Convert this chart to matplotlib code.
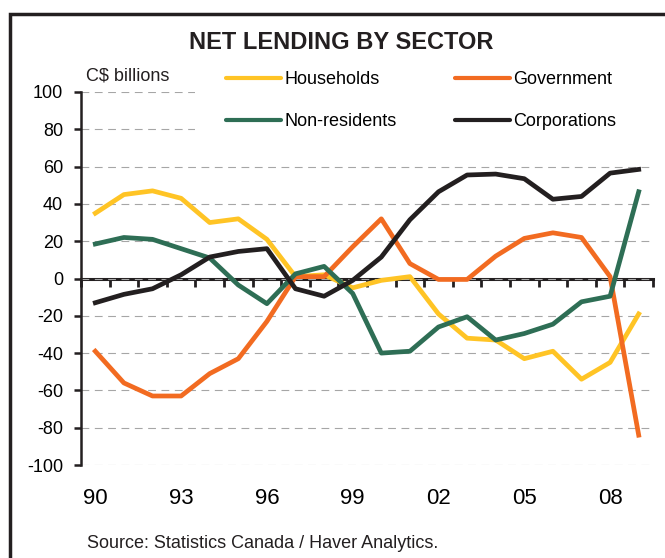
import numpy as np
import matplotlib
matplotlib.use('Agg')
import matplotlib.pyplot as plt
from matplotlib.patches import Rectangle
from matplotlib.lines import Line2D

plt.rcParams['font.family'] = ['Liberation Sans', 'DejaVu Sans']
plt.rcParams['axes.unicode_minus'] = False

years = list(range(1990, 2010))
year_labels = ['90', '93', '96', '99', '02', '05', '08']

households = [35, 45, 47, 43, 30, 32, 21, 1, 2, -5, -1, 1, -19, -32, -33, -43, -39, -54, -45, -19]
government = [-39, -56, -63, -63, -51, -43, -23, 1, 1, 17, 32, 8, -0.5, -0.5, 12, 21.5, 24.5, 22, 1, -84]
non_residents = [18.5, 22, 21, 16, 11, -3.5, -13.5, 2.5, 6.5, -8, -40, -39, -26, -20.5, -33, -29.5, -24.5, -12.5, -9.5, 46.5]
corporations = [-13, -8.5, -5.5, 2, 11.5, 14.5, 16, -5.5, -9.5, -1, 11.5, 31.5, 46.5, 55.5, 56, 53.5, 42.5, 44, 56.5, 58.5]

c_house = '#FFC425'
c_gov = '#F26B21'
c_nonres = '#2E6E55'
c_corp = '#231F20'

W, H = 665, 558
fig = plt.figure(figsize=(W / 100, H / 100), dpi=100)
ax = fig.add_axes([81 / W, 1 - 465 / H, 572 / W, 373 / H])

x = np.arange(len(years))
lw = 3.4
ax.plot(x, households, color=c_house, lw=lw, zorder=3)   # households
ax.plot(x, government, color=c_gov, lw=lw, zorder=3)     # government
ax.plot(x, non_residents, color=c_nonres, lw=lw, zorder=3)  # non-residents
ax.plot(x, corporations, color=c_corp, lw=lw, zorder=3)  # corporations

ax.set_xlim(-0.5, len(years) - 0.5)
ax.set_ylim(-100, 100)
ax.set_yticks(range(-100, 101, 20))
ax.yaxis.grid(True, color='#a6a6a6', linestyle=(0, (7, 5)), lw=0.8)

for s in ['top', 'right', 'bottom']:
    ax.spines[s].set_visible(False)
ax.spines['left'].set_linewidth(1.8)
ax.spines['left'].set_color(c_corp)
ax.tick_params(axis='y', length=5, width=1.8, color=c_corp, pad=8, labelsize=13)

ax.set_xticks(x[::3])
ax.set_xticklabels(year_labels)
ax.tick_params(axis='x', length=0, pad=16.5, labelsize=16)

# zero line with ticks between the years
sec = ax.secondary_xaxis(0.5)
sec.set_alignment('bottom')
sec.set_xticks(np.arange(-0.5, len(years), 1))
sec.tick_params(length=6, width=2, color=c_corp, labelbottom=False)
sec.spines['bottom'].set_linewidth(2.2)
sec.spines['bottom'].set_color(c_corp)

# white area behind the legend
ax.add_patch(Rectangle((195 / W, 1 - 142 / H), 465 / W, 60 / H, transform=fig.transFigure,
                       facecolor='white', edgecolor='none', zorder=1.8, clip_on=False))

handles = [Line2D([], [], color=c_house, lw=3, solid_capstyle='round'),
           Line2D([], [], color=c_nonres, lw=3, solid_capstyle='round'),
           Line2D([], [], color=c_gov, lw=3, solid_capstyle='round'),
           Line2D([], [], color=c_corp, lw=3, solid_capstyle='round')]
labels = ['Households', 'Non-residents', 'Government', 'Corporations']
ax.legend(handles, labels, ncol=2, loc='upper left', bbox_to_anchor=(226 / W, 1 - 71 / H),
          bbox_transform=fig.transFigure, frameon=False, fontsize=13, handlelength=3.05,
          handletextpad=0.2, columnspacing=3.2, labelspacing=1.38, borderpad=0, borderaxespad=0)

fig.text(341.5 / W, 1 - 42.5 / H, 'NET LENDING BY SECTOR', ha='center', va='center',
         fontsize=17, fontweight='bold', color=c_corp)
fig.text(86 / W, 1 - 76 / H, 'C$ billions', ha='left', va='center', fontsize=13, color=c_corp)
fig.text(87 / W, 1 - 544 / H, 'Source: Statistics Canada / Haver Analytics.', ha='left', va='center',
         fontsize=13, color=c_corp)

# outer frame
fig.add_artist(Rectangle((10 / W, -0.1), 1.2, 1.1 - 14 / H, transform=fig.transFigure,
                         fill=False, edgecolor=c_corp, lw=2.5))

fig.savefig('out.png', dpi=100)
